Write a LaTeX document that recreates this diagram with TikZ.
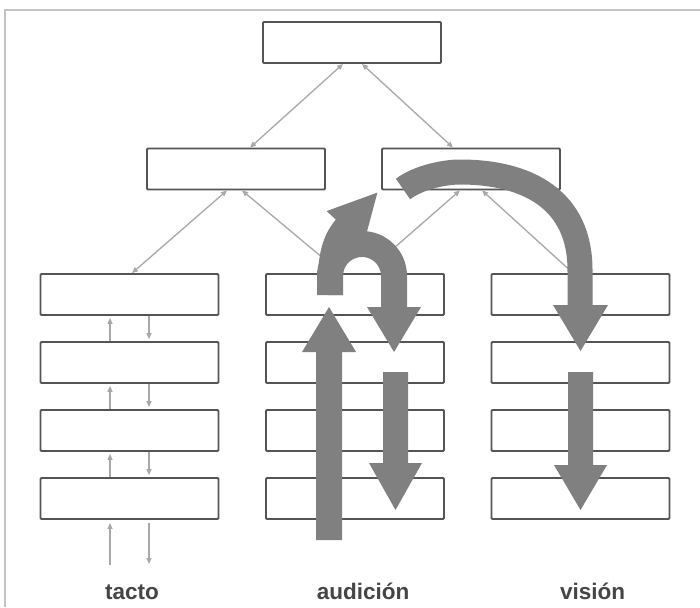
\documentclass[tikz,border=0pt]{standalone}
\usepackage{fontspec}
\setmainfont{Liberation Sans}
\usetikzlibrary{arrows.meta}
\definecolor{boxline}{HTML}{555555}
\definecolor{thinline}{HTML}{A8A8A8}
\definecolor{bigarrow}{HTML}{808080}
\definecolor{frameline}{HTML}{C4C4C4}
\definecolor{labeltext}{HTML}{454545}
\begin{document}
\begin{tikzpicture}[x=1pt,y=-1pt,
  level/.style={draw=boxline,line width=1.8pt,fill=white,rounded corners=1pt,minimum width=178pt,minimum height=41pt,inner sep=0pt},
  link/.style={draw=thinline,line width=1.3pt,{Triangle[length=6pt,width=5pt]}-{Triangle[length=6pt,width=5pt]}},
  uplink/.style={draw=thinline,line width=1.3pt,-{Triangle[length=6pt,width=5pt]}},
  band/.style={draw=bigarrow,line width=25pt},
  lbl/.style={text=labeltext,font=\bfseries\fontsize{22.5}{24}\selectfont,inner sep=0pt,anchor=base}]
\useasboundingbox (0,0) rectangle (700,607);
\fill[white] (0,0) rectangle (700,607);
\draw[frameline,line width=1.5pt] (5,607) -- (5,10) -- (700,10);
% boxes
\node[level] (top) at (352,42.5) {};
\node[level] (midL) at (236,169) {};
\node[level] (midR) at (471,169) {};
\foreach \c/\x in {L/129.5,M/355,R/580.5}
  \foreach \r/\y in {1/294.5,2/362.5,3/430.5,4/498.5}
    \node[level] (\c\r) at (\x,\y) {};
% thin connectors
\coordinate (hidden) at (386,255);
\draw[link] ([xshift=-9pt]top.south) -- ([xshift=14pt]midL.north);
\draw[link] ([xshift=10pt]top.south) -- ([xshift=-18pt]midR.north);
\draw[link] ([xshift=-9pt]midL.south) -- ([xshift=2.5pt]L1.north);
\draw[link] ([xshift=6pt]midL.south) -- ([xshift=-14pt]M1.north);
\draw[link] ([xshift=-11pt]midR.south) -- (hidden);
\draw[link] ([xshift=11pt]midR.south) -- ([xshift=-7.5pt]R1.north);
\foreach \a/\b in {2/1,3/2,4/3} {
  \draw[uplink] ([xshift=-19.5pt]L\a.north) -- ([xshift=-19.5pt,yshift=-2pt]L\b.south);
  \draw[uplink] ([xshift=19.5pt]L\b.south) -- ([xshift=19.5pt,yshift=2pt]L\a.north);
}
\coordinate (tin) at (110,565);
\coordinate (tout) at (149,564);
\draw[uplink] (tin) -- ([xshift=-19.5pt,yshift=-3pt]L4.south);
\draw[uplink] ([xshift=19.5pt,yshift=-3pt]L4.south) -- (tout);
% big arrows: audicion
\fill[bigarrow] (316,540) -- (316,352) -- (302,352) -- (329,307) -- (356,352) -- (342,352) -- (342,540) -- cycle;
\fill[bigarrow] (383,372) -- (383,463) -- (369,463) -- (395.5,510) -- (422,463) -- (408,463) -- (408,372) -- cycle;
% vision lower
\fill[bigarrow] (568,372) -- (568,465) -- (554,465) -- (580.5,510) -- (607,465) -- (593,465) -- (593,372) -- cycle;
% U-turn
\draw[band,line width=26pt] (330,295) -- (330,276) .. controls (330,258.3) and (344.3,244) .. (362,244) .. controls (379.7,244) and (394,258.3) .. (394,276) -- (394,308);
\fill[bigarrow] (367,307) -- (421,307) -- (394,352) -- cycle;
% branch up-right
\draw[band] (330,295) .. controls (330,262) and (332,243) .. (346,227);
\fill[bigarrow] (326.6,211.1) -- (377.4,192.6) -- (363.4,244.9) -- cycle;
% big arc
\draw[band] (403,189) .. controls (419,177) and (445,172) .. (460,172) .. controls (528,172) and (580,200) .. (580,270) -- (580,306);
\fill[bigarrow] (553,305) -- (608,305) -- (580.5,351) -- cycle;
% labels
\node[lbl] (tacto) at (132,599) {tacto};
\node[lbl] (audicion) at (363,599) {audición};
\node[lbl] (vision) at (592.5,599) {visión};
\end{tikzpicture}
\end{document}
